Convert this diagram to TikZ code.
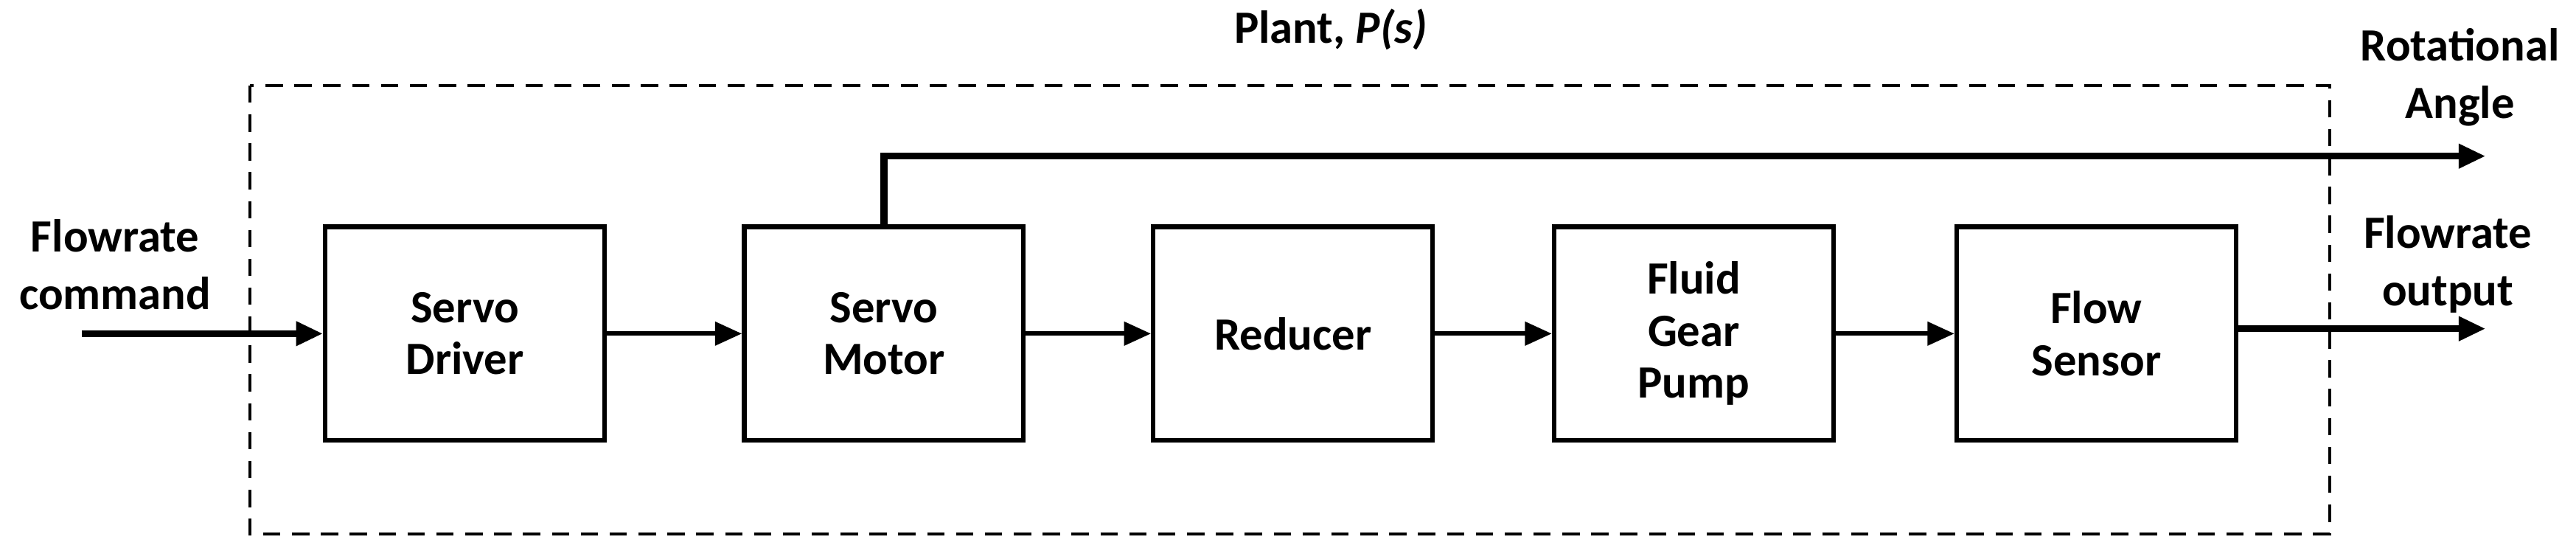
\documentclass[tikz,border=0pt]{standalone}
\usepackage{fontspec}
\setmainfont{Carlito}
\usetikzlibrary{arrows.meta}
\begin{document}
\begin{tikzpicture}[x=0.03cm,y=-0.03cm,
  blk/.style={draw,line width=2.4pt,minimum width=170*0.03cm,minimum height=130*0.03cm,align=center,font=\fontsize{24}{27}\selectfont\bfseries},
  lbl/.style={align=center,font=\fontsize{24}{30}\selectfont\bfseries},
  arr/.style={line width=2.4pt,-{Triangle[length=14pt,width=12pt]}},
  thick arr/.style={line width=3.6pt,-{Triangle[length=14pt,width=12pt]}}]
\useasboundingbox (0,0) rectangle (1568,333);
\draw[dashed,line width=1.6pt,dash pattern=on 9pt off 6pt] (152,52) rectangle (1418,325);
\node[blk] (sd) at (283,203) {Servo\\Driver};
\node[blk] (sm) at (538,203) {Servo\\Motor};
\node[blk] (rd) at (787,203) {Reducer};
\node[blk] (fp) at (1031,203) {Fluid\\Gear\\Pump};
\node[blk] (fs) at (1276,203) {Flow\\Sensor};
\coordinate (in) at (50,203);
\coordinate (out) at (1513,200);
\coordinate (ra) at (1513,95);
\node[lbl] (lin) at (70,161) {Flowrate\\command};
\node[lbl] (lout) at (1490,161) {Flowrate\\output};
\node[lbl,anchor=east] (lra) at (1562,47) {Rotational\\Angle};
\node[lbl] (ttl) at (810,18) {Plant, \textit{P(s)}};
\draw[thick arr] (in) -- (sd);
\draw[arr] (sd) -- (sm);
\draw[arr] (sm) -- (rd);
\draw[arr] (rd) -- (fp);
\draw[arr] (fp) -- (fs);
\draw[thick arr] (fs.east |- out) -- (out);
\draw[thick arr] (sm.north) -- (sm.north |- ra) -- (ra);
\end{tikzpicture}
\end{document}
